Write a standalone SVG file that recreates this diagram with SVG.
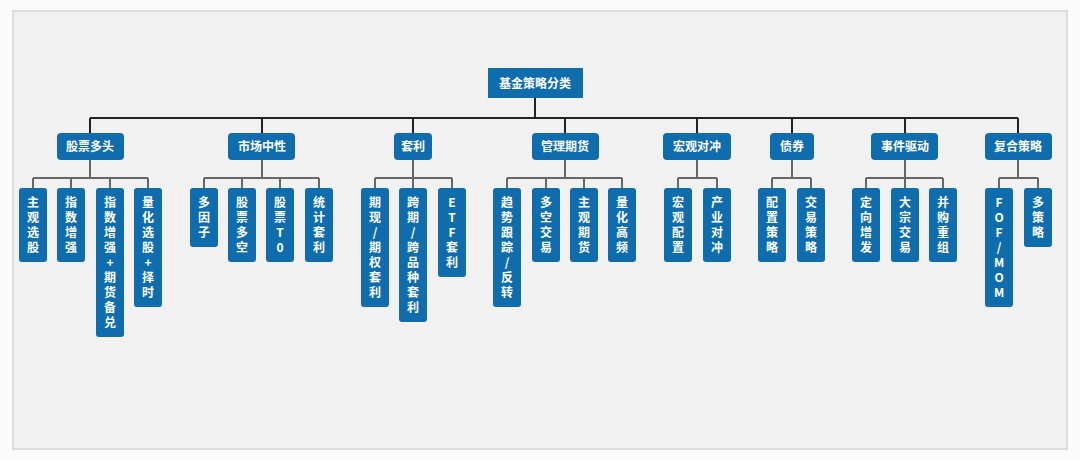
<svg xmlns="http://www.w3.org/2000/svg" width="1080" height="460" viewBox="0 0 1080 460">
<style>
.b{fill:#0f6cad}
.t{fill:#fff;font-family:"Noto Sans CJK SC","Liberation Sans",sans-serif;font-size:12px;font-weight:bold;text-anchor:middle}
.m{stroke:#222;stroke-width:2;fill:none}
.s{stroke:#666;stroke-width:2;fill:none}
</style>
<rect width="1080" height="460" fill="#fbfbfb"/>
<rect x="13" y="11" width="1054" height="438" fill="#f1f1f1" stroke="#dcdcdc" stroke-width="2"/>
<g id="connectors">
<path class="m" d="M535 98V118M90 118H1018M90 118V133M262 118V133M413 118V133M565 118V133M697 118V133M792 118V133M905 118V133M1018 118V133"/>
<path class="s" d="M90 160V178M33 178H148M33 178V188M71 178V188M110 178V188M148 178V188"/>
<path class="s" d="M262 160V178M204 178H319M204 178V188M242 178V188M280 178V188M319 178V188"/>
<path class="s" d="M413 160V178M375 178H452M375 178V188M413 178V188M452 178V188"/>
<path class="s" d="M565 160V178M507 178H622M507 178V188M546 178V188M584 178V188M622 178V188"/>
<path class="s" d="M697 160V178M678 178H717M678 178V188M717 178V188"/>
<path class="s" d="M792 160V178M772 178H811M772 178V188M811 178V188"/>
<path class="s" d="M905 160V178M866 178H943M866 178V188M905 178V188M943 178V188"/>
<path class="s" d="M1018 160V178M999 178H1038M999 178V188M1038 178V188"/>
</g>
<g id="root"><rect class="b" x="488" y="68" width="95" height="30"/><text class="t" x="535" y="88">基金策略分类</text></g>
<g id="c1"><rect class="b" x="57" y="133" width="67" height="27" rx="4"/><text class="t" x="90" y="151">股票多头</text></g>
<g id="c2"><rect class="b" x="228" y="133" width="67" height="27" rx="4"/><text class="t" x="262" y="151">市场中性</text></g>
<g id="c3"><rect class="b" x="394" y="133" width="38" height="27" rx="4"/><text class="t" x="413" y="151">套利</text></g>
<g id="c4"><rect class="b" x="532" y="133" width="67" height="27" rx="4"/><text class="t" x="565" y="151">管理期货</text></g>
<g id="c5"><rect class="b" x="663" y="133" width="68" height="27" rx="4"/><text class="t" x="697" y="151">宏观对冲</text></g>
<g id="c6"><rect class="b" x="770" y="133" width="44" height="27" rx="4"/><text class="t" x="792" y="151">债券</text></g>
<g id="c7"><rect class="b" x="871" y="133" width="67" height="27" rx="4"/><text class="t" x="905" y="151">事件驱动</text></g>
<g id="c8"><rect class="b" x="985" y="133" width="67" height="27" rx="4"/><text class="t" x="1018" y="151">复合策略</text></g>

<g id="l1"><rect class="b" x="19" y="188" width="28" height="74" rx="3"/><text class="t" y="207"><tspan x="33">主</tspan><tspan x="33" dy="15">观</tspan><tspan x="33" dy="15">选</tspan><tspan x="33" dy="15">股</tspan></text></g>
<g id="l2"><rect class="b" x="57" y="188" width="28" height="74" rx="3"/><text class="t" y="207"><tspan x="71">指</tspan><tspan x="71" dy="15">数</tspan><tspan x="71" dy="15">增</tspan><tspan x="71" dy="15">强</tspan></text></g>
<g id="l3"><rect class="b" x="96" y="188" width="28" height="149" rx="3"/><text class="t" y="207"><tspan x="110">指</tspan><tspan x="110" dy="15">数</tspan><tspan x="110" dy="15">增</tspan><tspan x="110" dy="15">强</tspan><tspan x="110" dy="15">+</tspan><tspan x="110" dy="15">期</tspan><tspan x="110" dy="15">货</tspan><tspan x="110" dy="15">备</tspan><tspan x="110" dy="15">兑</tspan></text></g>
<g id="l4"><rect class="b" x="134" y="188" width="28" height="119" rx="3"/><text class="t" y="207"><tspan x="148">量</tspan><tspan x="148" dy="15">化</tspan><tspan x="148" dy="15">选</tspan><tspan x="148" dy="15">股</tspan><tspan x="148" dy="15">+</tspan><tspan x="148" dy="15">择</tspan><tspan x="148" dy="15">时</tspan></text></g>

<g id="l5"><rect class="b" x="190" y="188" width="28" height="59" rx="3"/><text class="t" y="207"><tspan x="204">多</tspan><tspan x="204" dy="15">因</tspan><tspan x="204" dy="15">子</tspan></text></g>
<g id="l6"><rect class="b" x="228" y="188" width="28" height="74" rx="3"/><text class="t" y="207"><tspan x="242">股</tspan><tspan x="242" dy="15">票</tspan><tspan x="242" dy="15">多</tspan><tspan x="242" dy="15">空</tspan></text></g>
<g id="l7"><rect class="b" x="266" y="188" width="28" height="74" rx="3"/><text class="t" y="207"><tspan x="280">股</tspan><tspan x="280" dy="15">票</tspan><tspan x="280" dy="15">T</tspan><tspan x="280" dy="15">0</tspan></text></g>
<g id="l8"><rect class="b" x="305" y="188" width="28" height="74" rx="3"/><text class="t" y="207"><tspan x="319">统</tspan><tspan x="319" dy="15">计</tspan><tspan x="319" dy="15">套</tspan><tspan x="319" dy="15">利</tspan></text></g>

<g id="l9"><rect class="b" x="361" y="188" width="28" height="119" rx="3"/><text class="t" y="207"><tspan x="375">期</tspan><tspan x="375" dy="15">现</tspan><tspan x="375" dy="15">/</tspan><tspan x="375" dy="15">期</tspan><tspan x="375" dy="15">权</tspan><tspan x="375" dy="15">套</tspan><tspan x="375" dy="15">利</tspan></text></g>
<g id="l10"><rect class="b" x="399" y="188" width="28" height="134" rx="3"/><text class="t" y="207"><tspan x="413">跨</tspan><tspan x="413" dy="15">期</tspan><tspan x="413" dy="15">/</tspan><tspan x="413" dy="15">跨</tspan><tspan x="413" dy="15">品</tspan><tspan x="413" dy="15">种</tspan><tspan x="413" dy="15">套</tspan><tspan x="413" dy="15">利</tspan></text></g>
<g id="l11"><rect class="b" x="438" y="188" width="28" height="89" rx="3"/><text class="t" y="207"><tspan x="452">E</tspan><tspan x="452" dy="15">T</tspan><tspan x="452" dy="15">F</tspan><tspan x="452" dy="15">套</tspan><tspan x="452" dy="15">利</tspan></text></g>

<g id="l12"><rect class="b" x="493" y="188" width="28" height="119" rx="3"/><text class="t" y="207"><tspan x="507">趋</tspan><tspan x="507" dy="15">势</tspan><tspan x="507" dy="15">跟</tspan><tspan x="507" dy="15">踪</tspan><tspan x="507" dy="15">/</tspan><tspan x="507" dy="15">反</tspan><tspan x="507" dy="15">转</tspan></text></g>
<g id="l13"><rect class="b" x="532" y="188" width="28" height="74" rx="3"/><text class="t" y="207"><tspan x="546">多</tspan><tspan x="546" dy="15">空</tspan><tspan x="546" dy="15">交</tspan><tspan x="546" dy="15">易</tspan></text></g>
<g id="l14"><rect class="b" x="570" y="188" width="28" height="74" rx="3"/><text class="t" y="207"><tspan x="584">主</tspan><tspan x="584" dy="15">观</tspan><tspan x="584" dy="15">期</tspan><tspan x="584" dy="15">货</tspan></text></g>
<g id="l15"><rect class="b" x="608" y="188" width="28" height="74" rx="3"/><text class="t" y="207"><tspan x="622">量</tspan><tspan x="622" dy="15">化</tspan><tspan x="622" dy="15">高</tspan><tspan x="622" dy="15">频</tspan></text></g>

<g id="l16"><rect class="b" x="664" y="188" width="28" height="74" rx="3"/><text class="t" y="207"><tspan x="678">宏</tspan><tspan x="678" dy="15">观</tspan><tspan x="678" dy="15">配</tspan><tspan x="678" dy="15">置</tspan></text></g>
<g id="l17"><rect class="b" x="703" y="188" width="28" height="74" rx="3"/><text class="t" y="207"><tspan x="717">产</tspan><tspan x="717" dy="15">业</tspan><tspan x="717" dy="15">对</tspan><tspan x="717" dy="15">冲</tspan></text></g>

<g id="l18"><rect class="b" x="758" y="188" width="28" height="74" rx="3"/><text class="t" y="207"><tspan x="772">配</tspan><tspan x="772" dy="15">置</tspan><tspan x="772" dy="15">策</tspan><tspan x="772" dy="15">略</tspan></text></g>
<g id="l19"><rect class="b" x="797" y="188" width="28" height="74" rx="3"/><text class="t" y="207"><tspan x="811">交</tspan><tspan x="811" dy="15">易</tspan><tspan x="811" dy="15">策</tspan><tspan x="811" dy="15">略</tspan></text></g>

<g id="l20"><rect class="b" x="852" y="188" width="28" height="74" rx="3"/><text class="t" y="207"><tspan x="866">定</tspan><tspan x="866" dy="15">向</tspan><tspan x="866" dy="15">增</tspan><tspan x="866" dy="15">发</tspan></text></g>
<g id="l21"><rect class="b" x="891" y="188" width="28" height="74" rx="3"/><text class="t" y="207"><tspan x="905">大</tspan><tspan x="905" dy="15">宗</tspan><tspan x="905" dy="15">交</tspan><tspan x="905" dy="15">易</tspan></text></g>
<g id="l22"><rect class="b" x="929" y="188" width="28" height="74" rx="3"/><text class="t" y="207"><tspan x="943">并</tspan><tspan x="943" dy="15">购</tspan><tspan x="943" dy="15">重</tspan><tspan x="943" dy="15">组</tspan></text></g>

<g id="l23"><rect class="b" x="985" y="188" width="28" height="119" rx="3"/><text class="t" y="207"><tspan x="999">F</tspan><tspan x="999" dy="15">O</tspan><tspan x="999" dy="15">F</tspan><tspan x="999" dy="15">/</tspan><tspan x="999" dy="15">M</tspan><tspan x="999" dy="15">O</tspan><tspan x="999" dy="15">M</tspan></text></g>
<g id="l24"><rect class="b" x="1024" y="188" width="28" height="59" rx="3"/><text class="t" y="207"><tspan x="1038">多</tspan><tspan x="1038" dy="15">策</tspan><tspan x="1038" dy="15">略</tspan></text></g>
</svg>
